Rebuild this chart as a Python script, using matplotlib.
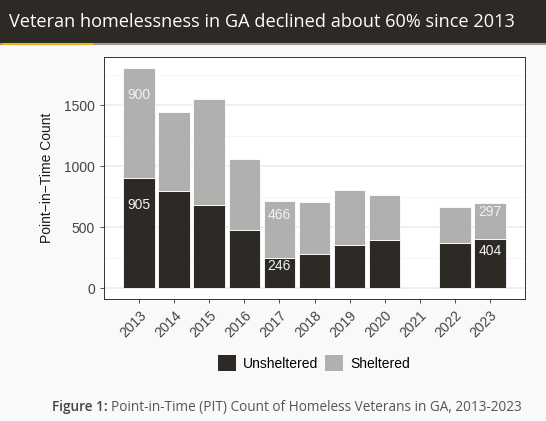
import matplotlib.pyplot as plt
import numpy as np
from matplotlib.patches import Patch

years = [2013, 2014, 2015, 2016, 2017, 2018, 2019, 2020, 2022, 2023]
unsheltered = [905, 797, 685, 477, 246, 278, 352, 390, 368, 404]
sheltered = [900, 649, 865, 580, 466, 431, 453, 377, 298, 297]
labelled_years = [2013, 2017, 2023]
tick_years = list(range(2013, 2024))

dark = '#2d2a26'
grey = '#b0b1ae'
page = '#f9f9f9'

plt.rcParams['font.family'] = 'Liberation Sans'

fig = plt.figure(figsize=(5.46, 4.21), dpi=100, facecolor=page)

# header band
fig.patches.append(plt.Rectangle((0, 1 - 43 / 421), 1, 43 / 421, transform=fig.transFigure,
                                 facecolor=dark, edgecolor='none'))
fig.add_artist(plt.Line2D([0, 1], [1 - 44 / 421] * 2, transform=fig.transFigure,
                          color='#9a9a9a', lw=1.5))
fig.add_artist(plt.Line2D([3 / 546, 92 / 546], [1 - 44 / 421] * 2, transform=fig.transFigure,
                          color='#f0b11e', lw=1.5))
fig.text(9 / 546, 1 - 22 / 421, 'Veteran homelessness in GA declined about 60% since 2013',
         color='white', fontsize=13.1, family='Open Sans', va='center', ha='left')

ax = fig.add_axes([104 / 546, 1 - 299 / 421, 421 / 546, 242 / 421])
ax.set_facecolor('white')

x = np.array(years)
u = np.array(unsheltered)
s = np.array(sheltered)
ax.bar(x, u, width=0.9, color=dark, edgecolor='white', linewidth=0.6, zorder=3)
ax.bar(x, s, width=0.9, bottom=u, color=grey, edgecolor='white', linewidth=0.6, zorder=3)

# value labels, three quarters up each segment
for yr in labelled_years:
    i = years.index(yr)
    ax.text(yr, u[i] * 0.75, str(u[i]), color='#f2f2f2', ha='center', va='center',
            fontsize=10, zorder=4)
    ax.text(yr, u[i] + s[i] * 0.75, str(s[i]), color='#f2f2f2', ha='center', va='center',
            fontsize=10, zorder=4)

ax.set_xlim(2012.0, 2024.0)
ax.set_ylim(-90, 1895)
ax.set_yticks([0, 500, 1000, 1500])
ax.set_yticks([250, 750, 1250, 1750], minor=True)
ax.set_xticks(tick_years)
ax.set_xticklabels([str(t) for t in tick_years], rotation=45, ha='right',
                   rotation_mode='anchor')
ax.grid(which='major', axis='y', color='#ebebeb', lw=1.1, zorder=0)
ax.grid(which='minor', axis='y', color='#f4f4f4', lw=0.6, zorder=0)
ax.tick_params(axis='both', which='major', colors='#333333', labelcolor='#444444',
               labelsize=10, length=3, width=0.6)
ax.tick_params(axis='y', which='minor', length=0)
for sp in ax.spines.values():
    sp.set_color('#333333')
    sp.set_linewidth(0.7)
ax.set_ylabel('Point\u2212in\u2212Time Count', fontsize=10, color='#1a1a1a', labelpad=7)

handles = [Patch(facecolor=dark, edgecolor='none', label='Unsheltered'),
           Patch(facecolor=grey, edgecolor='none', label='Sheltered')]
fig.legend(handles=handles, loc='center', bbox_to_anchor=(314 / 546, 1 - 363 / 421),
           ncol=2, frameon=False, fontsize=10, handlelength=1.3, handleheight=1.3,
           handletextpad=0.5, columnspacing=0.5)

# caption: bold lead-in followed by the description
lead = fig.text(52 / 546, 1 - 407 / 421, 'Figure 1:', color='#444444', fontsize=9.8,
                family='Open Sans', weight='semibold', va='center', ha='left')
fig.canvas.draw()
bb = lead.get_window_extent(fig.canvas.get_renderer())
fig.text(bb.x1 / 546 + 3 / 546, 1 - 407 / 421,
         'Point-in-Time (PIT) Count of Homeless Veterans in GA, 2013-2023',
         color='#555555', fontsize=9.8, family='Open Sans', va='center', ha='left')

fig.savefig('out.png', dpi=100, facecolor=page)
